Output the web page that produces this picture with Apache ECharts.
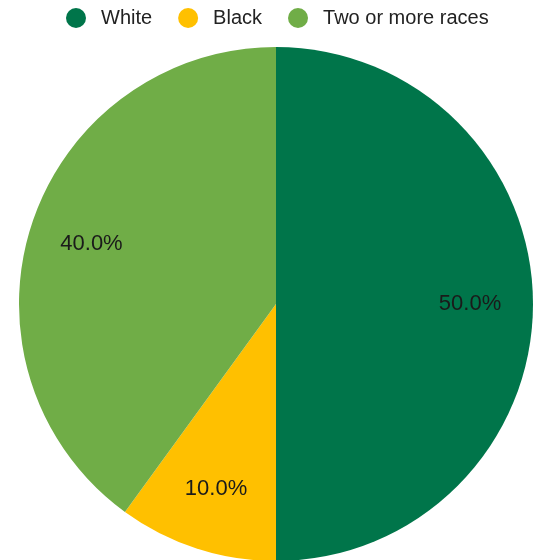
<!DOCTYPE html>
<html>
<head>
<meta charset="utf-8">
<script src="https://cdn.jsdelivr.net/npm/echarts@6/dist/echarts.min.js"></script>
<style>
  html, body { margin: 0; padding: 0; background: #fff; }
  #chart { width: 533px; height: 560px; }
</style>
</head>
<body>
<div id="chart"></div>
<script>
const categories = ['White', 'Black', 'Two or more races'];
const values = [50.0, 10.0, 40.0];
const colors = ['#00754A', '#FFC000', '#70AD47'];

const pieData = categories.map((name, i) => ({
  name: name,
  value: values[i],
  itemStyle: { color: colors[i] }
}));

const chart = echarts.init(document.getElementById('chart'));
chart.setOption({
  animation: false,
  legend: {
    data: categories,
    top: 3,
    left: 61,
    icon: 'circle',
    itemWidth: 20,
    itemHeight: 20,
    itemGap: 26,
    textStyle: {
      fontFamily: 'Liberation Sans, Arial',
      fontSize: 20,
      color: '#222',
      padding: [0, 0, 0, 10]
    }
  },
  series: [
    {
      type: 'pie',
      center: [276, 304],
      radius: 257,
      startAngle: 90,
      clockwise: true,
      label: { show: false },
      labelLine: { show: false },
      data: pieData
    },
    {
      // transparent ring just to put labels at ~3/4 radius
      type: 'pie',
      center: [276, 304],
      radius: [125, 257],
      startAngle: 90,
      clockwise: true,
      silent: true,
      legendHoverLink: false,
      itemStyle: { color: 'transparent' },
      label: {
        show: true,
        position: 'inside',
        formatter: p => p.value.toFixed(1) + '%',
        fontFamily: 'Liberation Sans, Arial',
        fontSize: 22,
        color: '#1a1a1a'
      },
      labelLine: { show: false },
      data: categories.map((name, i) => ({ name: name + ' ', value: values[i] }))
    }
  ]
});
</script>
</body>
</html>
